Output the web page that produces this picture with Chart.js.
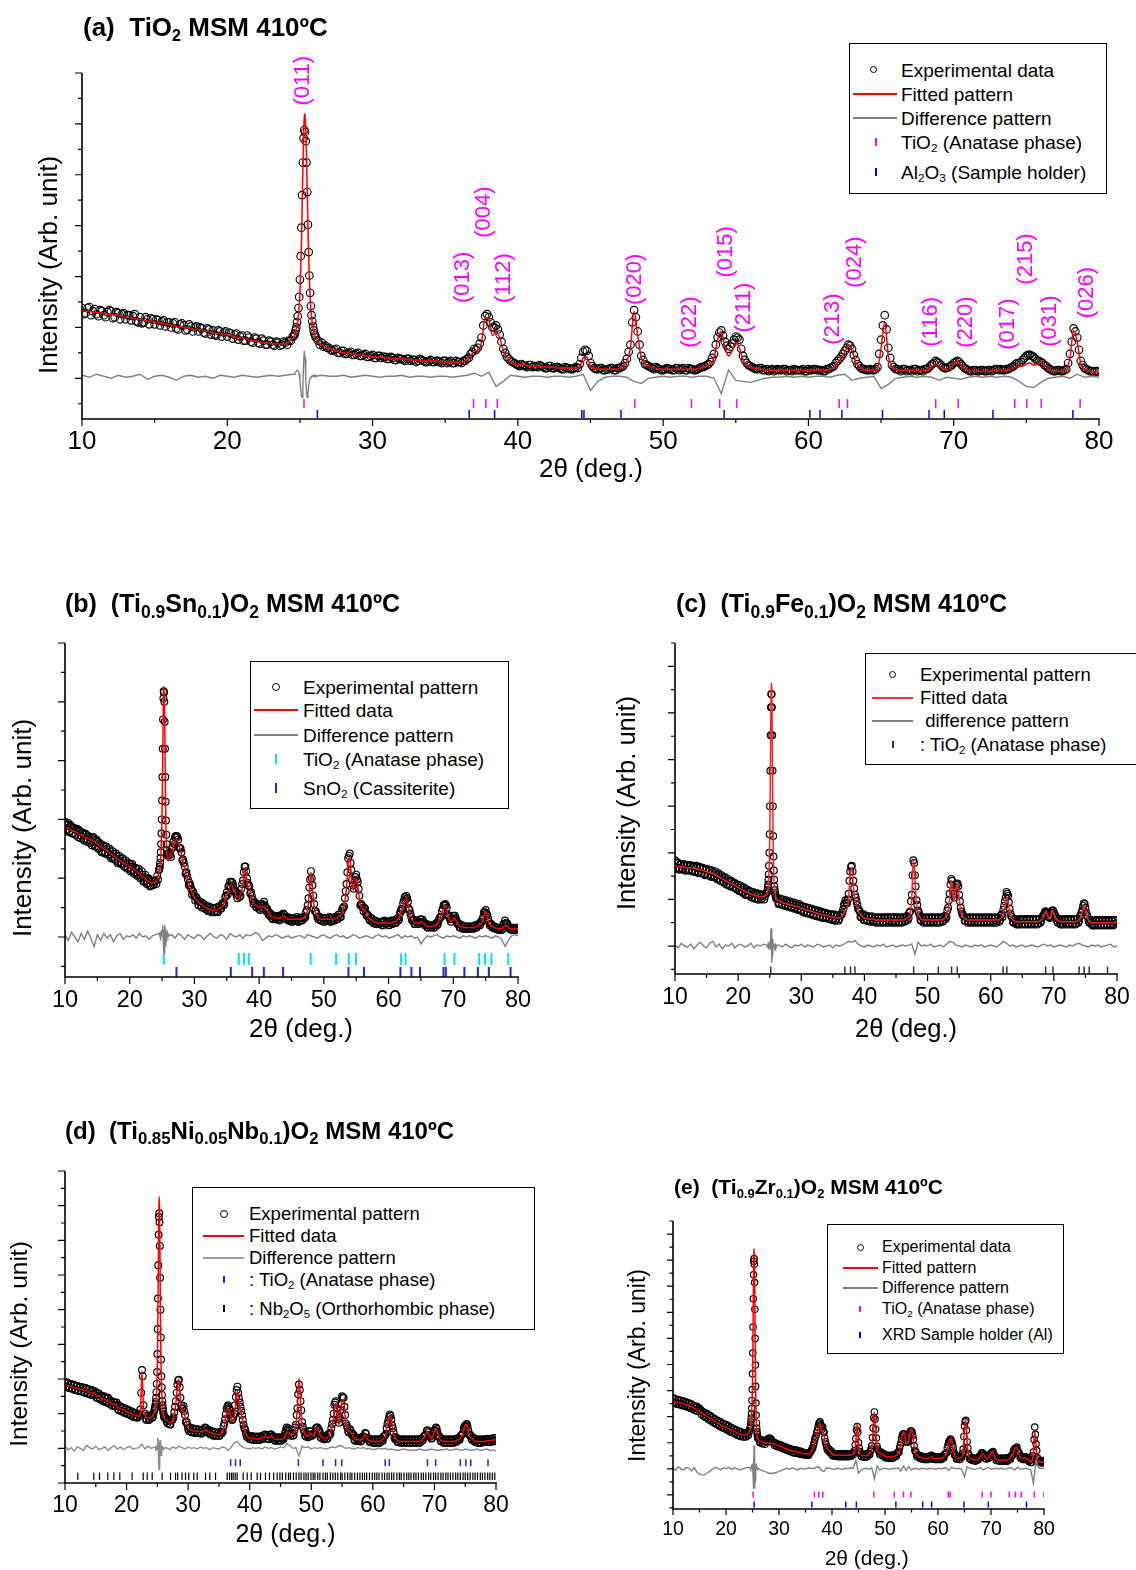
<!DOCTYPE html>
<html lang="en">
<head>
<meta charset="UTF-8">
<title>XRD patterns - MSM 410ºC</title>
<script src="https://cdn.jsdelivr.net/npm/chart.js"></script>
<style>
  * { margin: 0; padding: 0; box-sizing: border-box; }
  body {
    width: 1136px; height: 1570px; position: relative; overflow: hidden;
    background: #fff; color: #000;
    font-family: "Liberation Sans", Arial, Helvetica, sans-serif;
  }
  canvas { position: absolute; left: 0; top: 0; }
  .title { position: absolute; font-weight: bold; white-space: nowrap; line-height: 1; }
  sub { font-size: 62%; vertical-align: -0.32em; line-height: 0; }
  .title.big sub { font-size: 70%; }
  .legend { position: absolute; border: 1px solid #000; background: #fff; }
  .row { position: absolute; white-space: nowrap; line-height: 1; transform: translateY(-50%); }
  .sym { position: absolute; }
  .circ { border: 1px solid #000; border-radius: 50%; }
  .ln { height: 1.5px; }
</style>
</head>
<body>
<canvas id="cA" width="1136" height="1570"></canvas>
<canvas id="cB" width="1136" height="1570"></canvas>
<canvas id="cC" width="1136" height="1570"></canvas>
<canvas id="cD" width="1136" height="1570"></canvas>
<canvas id="cE" width="1136" height="1570"></canvas>

<div class="title" style="left:83px;top:14px;font-size:26px">(a)&nbsp; TiO<sub>2</sub> MSM 410ºC</div>
<div class="title big" style="left:65px;top:591px;font-size:25px">(b)&nbsp; (Ti<sub>0.9</sub>Sn<sub>0.1</sub>)O<sub>2</sub> MSM 410ºC</div>
<div class="title big" style="left:676px;top:591px;font-size:25px">(c)&nbsp; (Ti<sub>0.9</sub>Fe<sub>0.1</sub>)O<sub>2</sub> MSM 410ºC</div>
<div class="title big" style="left:65px;top:1119px;font-size:24px">(d)&nbsp; (Ti<sub>0.85</sub>Ni<sub>0.05</sub>Nb<sub>0.1</sub>)O<sub>2</sub> MSM 410ºC</div>
<div class="title" style="left:674px;top:1176px;font-size:21px">(e)&nbsp; (Ti<sub>0.9</sub>Zr<sub>0.1</sub>)O<sub>2</sub> MSM 410ºC</div>

<!-- legends -->
<div class="legend" style="left:849px;top:43px;width:258px;height:151px;font-size:19px">
  <span class="sym circ" style="left:20px;top:22px;width:7px;height:7px"></span>
  <span class="sym ln" style="left:3px;top:49px;width:44px;background:#ff0000"></span>
  <span class="sym ln" style="left:3px;top:73px;width:44px;background:#808080"></span>
  <span class="sym" style="left:25px;top:94px;width:1.5px;height:8px;background:#ff00ff"></span>
  <span class="sym" style="left:25px;top:124px;width:1.5px;height:8px;background:#0000ff"></span>
  <div class="row" style="left:51px;top:26px">Experimental data</div>
  <div class="row" style="left:51px;top:50px">Fitted pattern</div>
  <div class="row" style="left:51px;top:74px">Difference pattern</div>
  <div class="row" style="left:51px;top:98px">TiO<sub>2</sub> (Anatase phase)</div>
  <div class="row" style="left:51px;top:128px">Al<sub>2</sub>O<sub>3</sub> (Sample holder)</div>
</div>

<div class="legend" style="left:250px;top:661px;width:259px;height:148px;font-size:19px">
  <span class="sym circ" style="left:21px;top:21px;width:8px;height:8px"></span>
  <span class="sym ln" style="left:3px;top:47px;width:44px;background:#ff0000"></span>
  <span class="sym ln" style="left:3px;top:72px;width:44px;background:#808080"></span>
  <span class="sym" style="left:24px;top:92px;width:2px;height:10px;background:#00e6e6"></span>
  <span class="sym" style="left:24px;top:121px;width:2px;height:10px;background:#2020ff"></span>
  <div class="row" style="left:52px;top:25px">Experimental pattern</div>
  <div class="row" style="left:52px;top:48px">Fitted data</div>
  <div class="row" style="left:52px;top:73px">Difference pattern</div>
  <div class="row" style="left:52px;top:97px">TiO<sub>2</sub> (Anatase phase)</div>
  <div class="row" style="left:52px;top:126px">SnO<sub>2</sub> (Cassiterite)</div>
</div>

<div class="legend" style="left:865px;top:653px;width:300px;height:112px;font-size:18.5px">
  <span class="sym circ" style="left:23px;top:17px;width:7px;height:7px"></span>
  <span class="sym ln" style="left:6px;top:43px;width:41px;background:#ff3030"></span>
  <span class="sym ln" style="left:6px;top:66px;width:41px;background:#808080"></span>
  <span class="sym" style="left:26px;top:87px;width:1.5px;height:7px;background:#333"></span>
  <div class="row" style="left:54px;top:21px">Experimental pattern</div>
  <div class="row" style="left:54px;top:44px">Fitted data</div>
  <div class="row" style="left:54px;top:67px">&nbsp;difference pattern</div>
  <div class="row" style="left:54px;top:91px">: TiO<sub>2</sub> (Anatase phase)</div>
</div>

<div class="legend" style="left:192px;top:1187px;width:343px;height:143px;font-size:18.5px">
  <span class="sym circ" style="left:27px;top:22px;width:8px;height:8px"></span>
  <span class="sym ln" style="left:10px;top:47px;width:41px;background:#ff0000"></span>
  <span class="sym ln" style="left:10px;top:69px;width:41px;background:#a0a0a0"></span>
  <span class="sym" style="left:30px;top:88px;width:1.5px;height:7px;background:#2020ff"></span>
  <span class="sym" style="left:30px;top:117px;width:1.5px;height:7px;background:#000"></span>
  <div class="row" style="left:56px;top:26px">Experimental pattern</div>
  <div class="row" style="left:56px;top:48px">Fitted data</div>
  <div class="row" style="left:56px;top:70px">Difference pattern</div>
  <div class="row" style="left:56px;top:92px">: TiO<sub>2</sub> (Anatase phase)</div>
  <div class="row" style="left:56px;top:121px">: Nb<sub>2</sub>O<sub>5</sub> (Orthorhombic phase)</div>
</div>

<div class="legend" style="left:827px;top:1224px;width:237px;height:130px;font-size:16px">
  <span class="sym circ" style="left:29px;top:19px;width:7px;height:7px"></span>
  <span class="sym ln" style="left:15px;top:42px;width:35px;background:#ff0000"></span>
  <span class="sym ln" style="left:15px;top:62px;width:35px;background:#808080"></span>
  <span class="sym" style="left:31px;top:81px;width:1.5px;height:6px;background:#ff00ff"></span>
  <span class="sym" style="left:31px;top:107px;width:1.5px;height:6px;background:#0000ff"></span>
  <div class="row" style="left:54px;top:22px">Experimental data</div>
  <div class="row" style="left:54px;top:43px">Fitted pattern</div>
  <div class="row" style="left:54px;top:63px">Difference pattern</div>
  <div class="row" style="left:54px;top:84px">TiO<sub>2</sub> (Anatase phase)</div>
  <div class="row" style="left:54px;top:110px">XRD Sample holder (Al)</div>
</div>

<script>
// ---------- axis ticks ----------
const xTickLabels = [10, 20, 30, 40, 50, 60, 70, 80];
const xMinorTicks = [15, 25, 35, 45, 55, 65, 75];

// Grids: lo 10-24.5 step .25 | pk 24.6-26.1 step .05 | hi 26.25-80 step .25
//        mlo 10.125-24.375 step .25 | mhi 26.375-79.875 step .25 (extra observed points)
//        diff lo/hi step .5

// ---------- (a) TiO2 ----------
const obsA_lo = [69,64,70,66, 63,67,62,65, 66,60,64,63, 58,62,61,56, 60,55,58,59, 53,57,56,51, 55,54,49,53, 52,48,51,50,
  46,49,44,48, 47,42,46,45, 41,44,43,38, 42,37,40,35, 39,34,37,33, 36,32,35,33, 35,37,41];
const obsA_mlo = [63,69,62,68, 61,66,60,67, 59,65,58,64, 62,57,63,55, 54,60,53,58, 58,52,57,55, 50,55,48,54, 47,53,46,51,
  50,45,49,43, 43,47,41,46, 45,39,44,41, 37,42,36,40, 35,39,33,37, 33,36,32,36, 33,37];
const calcA_lo = [67,66,66,65, 65,64,64,63, 63,62,62,61, 60,60,59,58, 58,57,56,56, 55,55,54,53, 53,52,51,51, 50,50,49,48,
  48,47,46,46, 45,44,44,43, 43,42,41,40, 40,39,38,37, 37,36,35,35, 34,34,34,34, 34,36,39];
const obsA_pk = [42,44,47,50,55,61,69,80,97,120, 148,180,212,236,244,242,233,212,183,151, 124,101,84,71,62,56,51,47,44,42, 40];
const calcA_pk = [41,43,45,48,52,57,63,72,85,104, 130,165,203,236,256,260,246,220,185,150, 120,97,80,68,60,54,49,46,43,41, 39];
const obsA_hi = [
  37,35,32,30, 27,29,25,27, 24,26,23,25, 22,24,21,23, 20,22,21,19, 21,18,20,19, 17,19,18,16, 19,17,16,18,
  16,17,15,17, 16,15,17,16, 17,19,24,29, 30,40,61,60, 50,52,43,29, 21,17,15,13, 14,12,13,11, 12,13,11,10,
  12,10,11,9, 11,10,9,11, 14,26,27,15, 10,9,10,8, 9,10,8,10, 12,19,33,67, 46,22,14,12, 10,11,9,8,
  10,9,8,10, 9,8,10,9, 8,10,11,13, 16,24,40,47, 36,29,34,41, 38,22,15,12, 10,9,10,8, 7,9,8,8,
  9,7,8,9, 8,8,7,9, 8,9,8,7, 9,10,12,17, 21,27,33,29, 18,12,9,8, 9,8,11,38, 62,30,13,9,
  8,9,7,8, 9,7,8,9, 10,14,17,15, 11,10,12,15, 17,14,10,8, 7,8,7,8, 7,8,8,9, 9,8,9,11,
  14,15,18,22, 23,21,17,16, 13,10,8,7, 8,7,9,24, 49,40,17,10, 8,7,7,6];
const obsA_mhi = [
  33,31,30,28, 28,25,27,24, 25,23,24,22, 23,21,22,20, 22,20,21,19, 20,18,19,18, 19,17,18,17, 18,16,17,16,
  17,16,17,15, 17,15,16,15, 17,20,26,28, 34,52,63,55, 50,48,36,25, 19,16,14,12, 13,11,13,12, 11,12,10,12,
  10,11,10,9, 10,9,10,10, 20,28,22,12, 9,10,8,9, 10,8,10,11, 15,26,55,60, 33,18,13,11, 9,10,8,9,
  9,8,10,8, 10,8,9,8, 9,11,12,14, 20,33,45,42, 32,31,38,40, 29,18,13,11, 9,10,8,9, 8,7,9,8,
  9,8,7,8, 8,9,7,8, 9,8,8,7, 9,11,15,19, 24,30,32,23, 14,10,9,8, 8,9,24,52, 48,20,11,9,
  7,9,8,7, 9,8,7,9, 12,15,16,13, 10,11,13,16, 16,12,9,7, 8,7,8,7, 8,7,9,8, 8,9,10,12,
  15,16,20,23, 22,19,17,15, 12,9,7,8, 7,8,15,36, 46,28,13,9, 7,6,7];
const calcA_hi = [
  36,33,31,29, 28,27,26,25, 25,24,24,23, 23,22,22,21, 21,21,20,20, 20,19,19,19, 19,18,18,18, 18,17,17,17,
  17,17,16,16, 16,16,16,16, 16,17,21,27, 26,35,60,58, 42,46,40,27, 20,16,14,13, 13,13,12,12, 12,12,11,11,
  11,11,10,10, 10,10,10,10, 11,20,21,12, 10,9,9,9, 9,9,9,10, 12,17,30,66, 42,20,14,12, 11,10,9,9,
  9,9,9,9, 9,9,9,9, 9,10,11,12, 14,20,38,46, 30,22,27,35, 30,18,13,11, 10,9,9,8, 8,8,8,8,
  8,8,8,8, 8,8,8,8, 8,8,8,8, 8,9,11,15, 19,25,33,27, 16,11,9,8, 8,8,9,30, 55,22,11,9,
  8,8,8,8, 8,8,8,8, 8,11,14,12, 9,8,9,13, 17,13,9,8, 7,7,7,7, 7,7,8,8, 9,8,8,9,
  11,12,12,14, 15,13,14,16, 13,9,7,7, 7,7,8,20, 47,36,14,9, 7,7,6,6];
const diffA_lo = [3,1,4,2,0,3,1,2,4,-1, 2,3,1,-2,2,3,1,2,0,3, 2,1,3,2,1,2,3,2,3,4];
const diffA_pk = [4,5,6,7,8,8,7,4,-2,-10, -17,-19,-8,15,27,20,0,-14,-19,-15, -8,-3,0,1,2,2,3,2,2,3, 2];
const diffA_hi = [
  3,2,2,3,1,2,3,2,1,2, 2,3,1,2,2,1,2,2,1,2, 3,5,2,6,-8,-3,3,2,1,2, 2,1,2,2,1,2,4,-12,-3,1,
  2,2,1,-3,-5,0,1,2,1,2, 2,1,2,2,0,-15,8,-2,-3,-4, -2,0,1,1,2,1,2,1,2,2, 1,3,4,-2,0,1,2,-10,-6,0,
  1,2,1,2,1,-2,1,0,-1,1, 2,1,2,1,2,1,-3,-8,-9,-4, 0,1,2,0,4,1,2,1];
const anataseA = [25.28, 36.95, 37.8, 38.58, 48.05, 51.95, 53.89, 55.06, 62.12, 62.69, 68.76, 70.31, 74.2, 75.03, 76.02, 78.7];
const aluminaA = [26.2, 36.65, 38.4, 44.4, 44.55, 47.1, 54.2, 60.1, 60.8, 62.3, 65.1, 68.3, 69.35, 72.7, 78.2];
const hklA_text = ['(011)','(013)','(004)','(112)','(020)','(022)','(015)','(211)','(213)','(024)','(116)','(220)','(017)','(215)','(031)','(026)'];
const hklA_x = [25.21, 36.22, 37.67, 39.05, 48.06, 51.85, 54.32, 55.56, 61.69, 63.2, 68.43, 70.84, 73.73, 74.97, 76.62, 79.17];
const hklA_y = [268, 74, 138, 74, 72, 30, 99, 45, 33, 89, 31, 30, 28, 92, 31, 59];
const yMajorA = [0, 50, 100, 150, 200, 250, 300];
const yMinorA = [-25, 25, 75, 125, 175, 225, 275];

// ---------- (b) (Ti0.9Sn0.1)O2 ----------
const obsB_lo = [98,95,97,90, 94,88,92,91, 85,90,86,88, 82,87,83,85, 80,84,79,82, 81,76,79,73, 77,72,75,70, 73,68,71,66,
  69,64,67,62, 65,60,63,59, 62,57,60,55, 58,53,55,51, 53,48,50,46, 49,44,47,45, 48,52,57];
const obsB_mlo = [91,96,89,95, 88,93,87,92, 91,84,89,83, 88,81,86,80, 78,85,77,83, 75,80,72,78, 71,77,70,75, 67,73,66,71,
  63,69,62,67, 60,65,58,63, 56,62,54,59, 52,58,50,56, 47,53,45,50, 43,48,44,47, 45,49];
const calcB_lo = [94,93,93,92, 91,90,90,89, 88,87,87,86, 85,84,84,83, 83,82,81,80, 79,78,77,76, 75,74,73,72, 71,70,69,68,
  67,66,65,64, 63,62,62,61, 60,59,58,57, 56,55,54,53, 51,50,49,48, 47,46,46,46, 47,50,54];
const obsB_pk = [58,60,63,67,72,79,88,100,116,136, 160,185,203,209,208,200,183,160,136,115, 99,87,79,74,71,70,69,69,70,71, 72];
const calcB_pk = [56,58,61,64,68,74,82,93,108,127, 150,176,200,212,213,205,186,160,134,112, 95,83,75,70,67,66,65,65,65,66, 67];
const obsB_hi = [
  70,75,81,85, 86,83,76,72, 66,60,55,49, 46,41,39,35, 34,31,30,27, 29,25,27,23, 26,22,25,21, 25,22,26,24,
  28,27,34,38, 43,47,47,44, 40,36,37,34, 41,48,60,56, 46,43,38,32, 30,26,28,24, 27,28,30,25, 24,19,20,16,
  18,15,17,15, 17,19,20,16, 17,14,16,13, 16,14,15,13, 16,14,17,16, 21,27,42,56, 44,28,22,17, 17,14,16,13,
  16,14,16,13, 16,14,17,15, 19,17,22,25, 33,45,67,71, 57,44,48,53, 47,35,28,25, 25,20,19,15, 16,13,14,11,
  13,11,13,10, 13,11,12,10, 13,11,14,12, 15,14,20,24, 29,34,35,30, 23,17,15,11, 13,11,13,15, 15,12,11,8,
  10,8,10,8, 11,10,14,17, 22,27,28,25, 18,15,15,18, 18,14,12,8, 10,7,9,7, 9,7,9,7, 9,8,10,11,
  13,15,21,23, 19,13,11,8, 9,7,8,6, 8,6,11,14, 12,9,8,6, 8,6,8,7];
const obsB_mhi = [
  68,77,79,86, 85,76,75,65, 63,54,52,44, 44,36,37,31, 33,27,30,25, 28,24,26,22, 25,21,24,21, 25,21,26,24,
  29,28,35,36, 44,42,46,39, 38,33,37,35, 45,55,60,50, 44,37,35,28, 29,25,27,23, 27,24,27,22, 22,18,19,15,
  17,15,18,14, 18,16,19,15, 17,14,16,13, 16,14,17,13, 16,14,17,17, 23,33,49,50, 35,22,20,15, 17,14,16,13,
  16,14,17,13, 16,14,17,15, 19,17,24,26, 39,55,69,63, 49,41,51,49, 41,27,27,22, 24,18,18,14, 16,12,14,11,
  13,11,13,10, 14,11,13,10, 14,11,14,12, 16,15,22,23, 31,32,33,24, 20,14,15,11, 14,11,15,12, 13,10,11,8,
  10,8,10,8, 12,11,16,17, 24,27,27,19, 17,13,16,15, 16,11,11,8, 10,7,9,7, 9,7,9,7, 10,8,11,10,
  13,17,21,20, 16,10,11,8, 9,7,8,6, 8,7,11,12, 11,7,8,6, 8,6,7];
const calcB_hi = [
  68,72,78,82, 83,80,75,70, 64,58,53,48, 44,40,37,34, 32,30,29,28, 27,26,25,24, 24,23,23,23, 23,23,24,25,
  26,28,31,35, 39,43,44,42, 38,35,34,35, 38,46,58,52, 42,41,36,31, 28,27,26,25, 25,26,26,24, 22,20,18,17,
  17,16,16,16, 16,17,18,17, 16,15,15,15, 15,15,15,15, 15,15,16,17, 19,24,38,55, 40,26,20,18, 16,15,15,15,
  15,15,15,15, 15,15,16,16, 17,18,20,24, 30,42,63,68, 52,40,44,50, 44,32,26,24, 23,21,18,16, 15,14,13,13,
  12,12,12,12, 12,12,12,12, 12,12,13,13, 14,15,18,22, 26,31,33,28, 21,16,14,12, 12,12,12,13, 12,11,10,9,
  9,9,9,9, 10,11,13,16, 20,25,27,23, 17,14,13,15, 16,13,11,9, 9,8,8,8, 8,8,8,8, 8,9,9,10,
  11,13,18,22, 17,12,10,9, 8,8,7,7, 7,7,8,10, 9,8,7,7, 7,7,7,6];
const diffB_lo = [2,-3,4,0,-4,3,-2,5,-1,-8, 2,-3,3,-1,2,-4,1,3,-2,1, 0,2,-1,3,0,1,-2,1,2,3];
const diffB_pk = [2,1,3,2,1,3,2,4,6,8, 10,6,-2,-10,-14,-6,4,10,6,-4, -8,-3,1,2,4,3,2,1,3,2, 1];
const diffB_hi = [
  2,-1,3,1,-2,2,0,-1,2,1, -2,1,3,0,-1,2,1,-2,3,1, 0,2,-1,2,1,2,4,2,-3,-1, 1,0,2,1,-1,0,1,-1,0,1,
  1,-1,2,1,0,-1,1,2,0,-1, 1,2,0,1,-1,0,2,1,-1,0, 1,0,-1,1,2,0,1,-1,0,1, 2,-1,1,0,1,-1,0,-6,-2,1,
  0,1,2,0,-1,1,0,1,0,-1, 1,0,1,0,-1,1,0,1,0,-1, 1,0,-2,-8,-3,1,2,1];
const anataseB = [25.26, 36.85, 37.65, 38.4, 47.96, 51.9, 53.86, 54.97, 61.94, 62.63, 68.64, 70.18, 74.0, 74.9, 75.9, 78.5];
const cassiteriteB = [27.22, 35.62, 38.92, 40.73, 43.7, 53.8, 56.2, 61.83, 63.53, 64.86, 68.48, 68.85, 71.72, 73.8, 75.5, 78.85];
const yMajorB = [0, 50, 100, 150, 200, 250];
const yMinorB = [-25, 25, 75, 125, 175, 225];

// ---------- (c) (Ti0.9Fe0.1)O2 ----------
const obsC_lo = [92,84,89,82, 88,83,86,81, 87,82,86,80, 85,79,84,78, 84,78,83,76, 82,76,81,74, 79,74,77,72, 76,70,74,68,
  72,66,70,64, 69,63,67,61, 65,59,63,57, 61,55,59,54, 58,52,56,51, 55,50,54,51, 55,53,57];
const obsC_mlo = [83,90,82,88, 82,88,81,87, 81,87,81,86, 80,86,79,85, 78,84,77,83, 76,82,75,81, 74,80,72,78, 70,76,69,74,
  66,72,65,70, 63,68,62,66, 59,65,58,63, 55,61,55,59, 52,58,51,57, 50,56,50,55, 50,56];
const calcC_lo = [86,86,85,85, 85,85,85,84, 84,84,84,84, 84,83,83,82, 82,81,81,80, 80,79,79,78, 78,77,76,75, 74,73,72,71,
  70,69,68,67, 67,66,65,64, 63,62,61,60, 59,58,58,57, 56,55,55,54, 54,53,53,53, 53,54,55];
const obsC_pk = [58,60,63,66,71,77,86,100,120,150, 188,226,256,270,270,256,226,188,150,118, 96,81,71,64,60,57,55,53,52,51, 51];
const calcC_pk = [56,58,60,63,67,73,82,95,115,145, 185,228,264,282,280,258,222,180,142,112, 91,77,68,62,58,55,53,52,51,50, 50];
const obsC_hi = [
  51,46,50,45, 48,44,47,43, 46,42,45,41, 44,40,43,38, 42,37,41,36, 40,35,39,34, 38,33,37,32, 36,31,35,31,
  34,30,33,29, 33,28,32,29, 33,36,44,49, 46,56,80,86, 70,55,48,40, 37,31,33,28, 32,27,31,27, 31,27,30,26,
  30,26,30,26, 30,26,31,27, 30,26,31,26, 30,26,30,26, 30,27,32,30, 37,55,92,76, 49,38,33,27, 30,26,30,26,
  30,26,30,26, 30,26,30,26, 30,27,32,31, 41,56,72,59, 52,63,67,55, 41,34,32,27, 30,26,30,26, 30,26,30,26,
  30,26,30,26, 30,26,30,26, 30,26,30,27, 30,28,34,39, 48,58,54,40, 32,26,29,24, 28,24,28,24, 28,24,28,24,
  28,24,28,24, 28,24,29,27, 32,35,37,35, 31,32,38,36, 32,27,29,24, 28,24,28,24, 28,24,28,24, 28,24,29,27,
  33,38,46,41, 33,27,28,23, 27,23,27,23, 27,23,27,23, 27,23,27,23, 27,23,27,25];
const obsC_mhi = [
  45,51,44,50, 43,49,42,48, 41,47,40,46, 39,45,38,43, 36,42,35,41, 34,40,33,39, 32,38,31,37, 30,36,30,35,
  29,34,28,34, 27,33,27,33, 34,39,46,47, 50,70,85,80, 62,52,44,39, 31,35,28,33, 27,32,26,32, 26,31,25,31,
  25,31,25,31, 25,31,25,31, 25,31,25,31, 25,31,25,31, 26,32,28,36, 48,76,89,64, 44,36,28,31, 25,31,25,31,
  25,31,25,31, 25,31,25,31, 26,32,29,38, 49,66,70,55, 56,66,64,48, 37,33,27,31, 25,31,25,31, 25,31,25,31,
  25,31,25,31, 25,31,25,31, 25,31,25,31, 26,33,31,43, 52,56,47,35, 31,25,29,23, 23,29,23,29, 23,29,23,29,
  23,29,23,29, 23,29,25,31, 33,37,36,31, 30,36,38,34, 30,25,29,23, 23,29,23,29, 23,29,23,29, 23,29,25,32,
  36,43,45,36, 31,25,28,22, 22,28,22,28, 22,28,22,28, 22,28,22,28, 22,28,24];
const calcC_hi = [
  49,48,48,47, 46,46,45,45, 44,44,43,43, 42,42,41,40, 40,39,39,38, 38,37,37,36, 36,35,35,34, 34,33,33,33,
  32,32,31,31, 31,30,30,30, 31,32,35,38, 40,52,78,84, 65,50,45,38, 35,33,31,30, 30,29,29,29, 29,29,28,28,
  28,28,28,28, 28,28,28,28, 28,28,28,28, 28,28,28,28, 28,29,30,31, 35,52,93,72, 45,36,31,29, 28,28,28,28,
  28,28,28,28, 28,28,28,28, 28,29,30,32, 38,52,70,55, 49,62,68,52, 38,32,30,29, 28,28,28,28, 28,28,28,28,
  28,28,28,28, 28,28,28,28, 28,28,28,28, 28,29,31,35, 42,52,48,36, 30,28,27,26, 26,26,26,26, 26,26,26,26,
  26,26,26,26, 26,26,27,28, 30,34,37,33, 30,31,38,35, 30,28,27,26, 26,26,26,26, 26,26,26,26, 26,26,27,28,
  31,36,44,38, 31,28,26,25, 25,25,25,25, 25,25,25,25, 25,25,25,25, 25,25,26,26];
const diffC_lo = [1,-2,3,0,-1,2,-3,1,4,0, -2,3,5,-1,2,-3,1,0,3,-2, 1,2,-1,0,3,-2,1,0,2,1];
const diffC_pk = [0,1,-1,2,0,1,-2,1,3,2, -4,6,15,19,-8,-18,-10,4,8,2, -2,1,0,2,-1,1,0,-1,1,0, 1];
const diffC_hi = [
  1,-1,2,0,-2,1,0,2,-1,1, 0,-1,2,1,-1,0,1,-2,1,0, 1,3,5,4,6,2,0,-1,1,0, -1,1,0,2,-1,0,1,-1,0,1,
  0,1,2,-9,4,0,1,0,2,-1, 0,1,-1,2,5,4,1,0,-1,1, 0,-1,1,0,1,-1,0,1,0,-1, 2,5,3,0,1,-1,0,1,-1,0,
  1,0,-1,1,2,0,1,-1,0,1, 0,-1,1,0,2,3,1,0,-1,1, 0,1,-1,0,1,2,-1,0];
const anataseC = [25.17, 36.9, 37.8, 38.5, 47.8, 51.7, 53.8, 54.7, 61.96, 62.55, 68.7, 69.87, 74.0, 74.8, 75.6, 78.5];
const yMajorC = [0, 50, 100, 150, 200, 250, 300];
const yMinorC = [-25, 25, 75, 125, 175, 225, 275, 325];

// ---------- (d) (Ti0.85Ni0.05Nb0.1)O2 ----------
const obsD_lo = [96,89,94,87, 92,86,91,84, 90,83,88,82, 87,80,86,79, 85,77,83,78, 80,73,79,70, 75,68,73,66, 73,64,68,61,
  66,61,63,55, 60,53,58,51, 56,49,54,47, 52,45,51,44, 49,56,113,62, 50,41,47,42, 48,45,55];
const obsD_mlo = [89,95,87,93, 86,92,84,90, 83,89,82,88, 81,87,79,85, 78,84,77,82, 73,79,72,76, 69,75,67,72, 66,69,62,67,
  61,66,56,61, 54,59,52,57, 50,55,48,53, 46,51,45,50, 47,80,104,50, 43,47,41,47, 44,50];
const calcD_lo = [92,91,90,90, 89,88,87,87, 86,86,85,85, 84,83,83,82, 81,80,79,80, 77,75,76,73, 72,71,70,69, 70,67,65,64,
  63,64,60,58, 57,56,55,54, 53,52,51,50, 49,48,48,47, 46,52,111,58, 47,44,44,44, 45,47,52];
const obsD_pk = [57,60,63,67,73,81,93,110,136,172, 216,264,308,334,339,326,292,246,200,160, 128,104,88,77,68,62,57,53,50,47, 45];
const calcD_pk = [55,57,60,64,69,76,86,101,124,158, 203,255,310,350,363,347,305,250,198,155, 123,100,84,73,65,59,55,51,48,46, 44];
const obsD_hi = [
  45,39,41,35, 40,42,52,68, 92,99,73,57, 61,48,38,28, 30,24,29,23, 28,23,27,22, 27,24,30,25, 27,21,25,19,
  24,18,23,18, 24,22,32,42, 57,62,56,44, 42,50,74,89, 72,60,48,34, 27,17,19,13, 18,13,17,12, 17,13,17,14,
  19,20,18,14, 19,20,17,12, 16,11,16,11, 16,13,22,30, 29,21,22,18, 26,34,58,92, 68,38,27,18, 21,16,25,19,
  21,21,29,30, 27,16,19,13, 18,14,20,19, 29,41,63,68, 49,37,55,75, 73,48,33,24, 28,22,21,12, 16,11,15,10,
  16,17,22,15, 15,9,13,8, 13,8,13,8, 14,11,17,19, 29,40,49,42, 29,16,16,9, 13,8,13,8, 13,8,13,8,
  13,8,13,8, 13,8,14,11, 17,19,25,23, 19,14,21,26, 30,23,18,11, 14,8,13,8, 13,8,13,8, 13,9,15,12,
  18,20,28,33, 35,26,20,14, 16,10,13,8, 13,8,13,9, 13,10,14,10, 14,11,15,12];
const obsD_mhi = [
  43,36,40,34, 41,45,60,80, 98,88,62,58, 54,38,34,25, 29,23,28,22, 28,22,27,21, 27,23,29,23, 26,20,24,18,
  23,18,22,18, 24,24,36,49, 60,58,50,41, 46,62,84,80, 66,54,41,29, 22,16,18,13, 17,12,16,12, 16,12,17,14,
  19,14,18,13, 20,15,17,11, 15,11,15,11, 15,18,26,27, 25,18,22,19, 30,48,78,84, 55,31,24,17, 20,17,24,18,
  21,22,30,26, 23,15,18,13, 17,14,21,22, 35,50,66,58, 42,44,64,73, 60,36,30,23, 26,19,19,11, 15,11,14,11,
  17,16,21,13, 13,9,12,8, 12,8,12,8, 13,11,18,21, 35,45,47,33, 23,13,15,9, 12,8,12,8, 12,8,12,8,
  12,8,12,8, 12,8,14,12, 18,20,26,18, 17,15,24,26, 28,17,16,10, 12,8,12,8, 12,8,12,8, 12,10,14,13,
  19,21,31,33, 32,20,18,12, 14,9,12,8, 12,8,12,9, 13,9,13,9, 14,10,15];
const calcD_hi = [
  42,40,38,37, 37,40,48,65, 88,100,68,52, 56,45,35,29, 27,26,26,25, 25,25,24,24, 24,25,27,26, 24,23,22,21,
  21,20,20,20, 21,23,28,38, 52,58,52,42, 39,45,68,82, 65,56,45,32, 24,19,16,15, 15,15,14,14, 14,14,14,15,
  16,17,16,15, 16,18,16,14, 13,13,13,13, 13,14,18,23, 24,20,19,20, 23,32,60,101, 70,36,24,20, 18,17,22,20,
  18,20,27,29, 24,18,16,15, 15,15,17,20, 26,38,58,65, 45,34,50,70, 70,45,30,25, 25,23,18,14, 13,13,12,12,
  13,16,20,16, 12,11,10,10, 10,10,10,10, 11,12,14,18, 26,38,48,40, 26,17,13,11, 10,10,10,10, 10,10,10,10,
  10,10,10,10, 10,10,11,12, 14,18,24,22, 16,15,18,25, 29,22,15,12, 11,10,10,10, 10,10,10,10, 10,11,12,13,
  15,19,26,33, 34,25,17,15, 13,11,10,10, 10,10,10,10, 10,11,11,11, 11,12,12,13];
const diffD_lo = [3,-2,1,-4,2,0,-3,4,1,-1, 3,-2,0,2,-3,1,4,-1,2,-2, 1,3,-1,0,1,6,-1,3,0,2];
const diffD_pk = [2,1,3,0,2,4,1,-2,5,10, 15,8,-12,-25,-31,-18,2,12,6,-8, -10,-3,1,3,2,0,1,-1,2,1, 0];
const diffD_hi = [
  1,-2,2,0,3,1,-1,2,0,1, -1,2,0,1,-2,1,0,-1,2,1, -3,2,8,10,4,1,0,-1,1,0, 1,-1,2,0,1,-1,0,2,1,7,
  4,0,1,-11,3,1,2,-1,1,0, 1,0,-1,1,2,1,4,3,0,1, 0,-1,1,0,1,-1,0,-2,-1,0, -1,0,-2,-1,-2,-3,-2,-1,-2,-3,
  -2,-3,-1,-2,-3,-2,-1,-2,-3,-2, -2,-1,-3,-2,-1,-2,-3,-1,-2,-3, -2,-1,-3,-2,-1,-3,-2,-4];
const anataseD = [25.32, 36.9, 37.7, 38.46, 47.9, 51.9, 53.95, 54.95, 62.0, 62.67, 68.87, 70.2, 74.2, 75.1, 75.9, 78.7];
const niobiaD = [12.08, 14.68, 15.6, 16.95, 17.93, 18.9, 20.9, 22.7, 23.35, 24.16, 25.78, 27.13, 27.95, 28.3, 29.0, 29.57,
  30.1, 30.92, 31.47, 32.82, 33.52, 34.45, 36.34, 36.72, 37.04, 37.31, 37.64, 37.96, 38.94, 39.59, 40.24, 41.21, 41.75,
  42.56, 43.21, 43.9, 44.46, 44.9, 45.3, 45.85, 46.3, 46.6, 47.1, 47.55, 48.0, 48.35, 48.8, 49.15, 49.5, 49.95, 50.3,
  50.6, 51.05, 51.4, 51.9, 52.3, 52.6, 53.1, 53.5, 53.9, 54.3, 54.75, 55.0, 55.45, 55.9, 56.3, 56.6, 57.05, 57.5, 57.9,
  58.3, 58.65, 59.0, 59.45, 59.9, 60.3, 60.65, 61.0, 61.5, 61.9, 62.3, 62.65, 63.05, 63.4, 63.9, 64.3, 64.6, 65.05, 65.5,
  65.85, 66.2, 66.65, 67.0, 67.4, 67.85, 68.2, 68.6, 69.05, 69.4, 69.85, 70.2, 70.6, 71.05, 71.4, 71.85, 72.2, 72.6,
  73.0, 73.45, 73.8, 74.2, 74.65, 75.0, 75.4, 75.8, 76.25, 76.6, 77.0, 77.45, 77.8, 78.2, 78.65, 79.0, 79.4, 79.8];
const yMajorD = [-50, 0, 50, 100, 150, 200, 250, 300, 350, 400];
const yMinorD = [-25, 25, 75, 125, 175, 225, 275, 325, 375];

// ---------- (e) (Ti0.9Zr0.1)O2 ----------
const obsE_lo = [136,126,134,124, 133,123,131,121, 130,120,128,118, 126,116,124,114, 121,118,120,114, 116,112,111,101,
  108,98,105,94, 102,91,98,88, 95,85,92,82, 89,79,87,77, 85,74,82,71, 79,69,77,67, 74,64,72,62, 70,61,69,61, 70,65,77];
const obsE_mlo = [127,134,125,132, 124,131,122,129, 121,128,119,126, 117,124,115,121, 112,119,110,116, 113,104,109,101,
  99,106,96,102, 93,99,89,96, 86,93,83,90, 80,87,78,85, 76,83,73,79, 70,77,68,75, 65,72,63,70, 62,68,62,68, 64,71];
const calcE_lo = [130,129,128,128, 127,127,126,125, 125,124,123,122, 121,120,119,118, 116,115,114,112, 110,108,107,105,
  103,102,100,98, 97,95,93,92, 90,89,87,86, 84,83,82,81, 80,78,77,75, 74,73,72,71, 69,68,67,66, 66,65,65,65, 66,68,73];
const obsE_pk = [80,84,90,97,105,116,131,152,182,222, 272,326,372,398,403,392,357,306,250,199, 158,126,103,88,78,71,66,62,60,58, 57];
const calcE_pk = [78,82,87,93,100,110,123,142,170,210, 262,320,375,412,422,405,362,305,245,192, 150,118,96,82,73,67,63,60,58,57, 56];
const obsE_hi = [
  57,51,55,49, 54,52,56,58, 59,57,53,50, 50,44,47,42, 46,40,43,38, 42,36,40,34, 38,32,36,31, 36,30,34,29,
  33,28,31,27, 31,27,31,33, 38,45,56,64, 74,86,90,82, 80,70,52,42, 40,33,35,27, 30,24,29,24, 29,24,29,24,
  29,24,29,24, 29,25,30,27, 35,58,81,50, 33,24,28,23, 28,23,29,27, 34,44,78,109, 76,43,35,28, 32,26,29,22,
  26,21,26,21, 26,21,27,24, 30,32,40,50, 64,67,60,52, 51,60,71,72, 64,44,33,24, 27,21,25,19, 23,18,23,18,
  24,21,26,19, 23,18,23,18, 23,18,24,21, 27,30,40,50, 55,54,46,32, 27,19,23,18, 24,22,38,82, 93,52,29,19,
  22,16,20,15, 20,17,23,23, 31,29,27,20, 23,20,26,30, 31,28,24,16, 20,15,20,15, 20,15,20,15, 21,18,24,25,
  34,39,40,36, 31,22,24,18, 23,20,22,16, 18,12,18,32, 80,48,21,13, 16,12,16,13];
const obsE_mhi = [
  50,56,48,54, 47,54,52,56, 56,52,51,45, 49,43,47,41, 45,39,43,37, 41,35,39,33, 37,31,36,30, 35,29,34,28,
  32,27,31,26, 30,26,32,35, 41,50,60,69, 80,88,84,76, 72,59,47,36, 38,31,33,25, 29,24,28,23, 29,23,28,23,
  29,23,28,23, 28,24,30,31, 46,74,70,40, 30,23,27,22, 28,23,30,27, 38,60,98,95, 59,38,33,27, 31,25,28,21,
  26,21,25,20, 26,21,27,24, 31,32,45,57, 66,65,58,51, 55,66,73,70, 56,35,31,23, 26,20,24,19, 23,18,23,18,
  24,20,25,19, 23,18,23,18, 23,18,24,21, 29,31,45,53, 57,52,40,26, 25,19,23,18, 24,30,62,90, 74,40,26,18,
  21,16,20,15, 20,18,25,26, 31,26,25,19, 23,21,29,31, 33,23,22,16, 20,15,20,15, 20,15,20,15, 21,18,25,28,
  37,39,42,32, 29,20,23,18, 23,18,21,14, 17,12,25,56, 66,35,19,12, 15,11,15];
const calcE_hi = [
  54,53,52,51, 50,50,49,49, 49,49,48,48, 47,46,45,44, 43,42,41,40, 39,38,37,36, 35,34,34,33, 33,32,32,31,
  30,30,29,29, 28,28,29,31, 35,42,52,61, 70,82,87,72, 71,64,48,40, 37,35,32,29, 27,26,26,26, 26,26,26,26,
  26,26,26,26, 26,26,27,28, 32,55,87,45, 30,26,25,25, 25,25,26,28, 31,40,75,109, 72,40,32,30, 29,28,26,24,
  23,23,23,23, 23,23,24,25, 27,30,37,48, 62,71,62,50, 49,58,72,77, 65,42,30,26, 24,23,22,21, 20,20,20,20,
  21,22,23,21, 20,20,20,20, 20,20,21,22, 24,28,37,48, 56,58,45,30, 24,21,20,20, 21,23,35,80, 93,48,26,21,
  19,18,17,17, 17,18,20,24, 28,29,25,21, 20,21,24,30, 33,27,21,18, 17,17,17,17, 17,17,17,17, 18,19,21,25,
  31,38,42,37, 29,23,21,20, 20,21,19,17, 15,13,15,30, 71,45,18,14, 13,13,13,13];
const diffE_lo = [2,-3,4,0,-2,3,1,-4,2,-6, -10,-12,-11,-8,-4,0,3,1,-2,2, 0,3,-1,2,1,-2,0,1,3,2];
const diffE_pk = [2,0,1,3,2,4,6,8,10,6, -10,-30,-38,-10,45,20,-25,-38,-22,-6, 2,6,8,6,3,1,0,2,-1,0, 1];
const diffE_hi = [
  -2,-4,-6,-8,-9,-8,-7,-5,-3,-1, 1,-1,2,0,-2,1,0,-1,2,1, 0,3,4,-3,-5,2,1,0,-1,1, 0,-1,1,0,2,1,16,-8,-2,0,
  1,-1,2,-19,5,-2,0,1,0,-1, 1,0,2,-4,5,-3,4,-2,1,0, -1,1,0,-1,1,0,-1,1,0,1, 2,-3,3,1,0,1,-2,-15,4,1,
  0,-1,1,2,-2,1,3,-1,0,1, 0,1,-1,0,2,1,-2,3,-1,0, 1,0,-2,-28,16,2,1,0];
const anataseE = [25.11, 36.69, 37.5, 38.26, 47.9, 51.73, 53.5, 54.88, 61.93, 62.3, 68.35, 70.0, 73.45, 74.6, 75.7, 78.17, 80.0];
const aluminiumE = [25.3, 36.2, 42.6, 44.6, 52.05, 57.1, 58.8, 64.9, 69.5, 76.7];
const yMajorE = [-50, 0, 50, 100, 150, 200, 250, 300, 350, 400, 450];
const yMinorE = [-75, -25, 25, 75, 125, 175, 225, 275, 325, 375, 425, 475];

// ---------- helpers ----------
const W = 1136, H = 1570;
const FONT = '"Liberation Sans", Arial, Helvetica, sans-serif';

function seg(start, step, vals) {
  return vals.map((v, i) => ({ x: Math.round((start + i * step) * 1000) / 1000, y: v }));
}
function profile(lo, pk, hi) {
  return seg(10, 0.25, lo).concat(seg(24.6, 0.05, pk), seg(26.25, 0.25, hi));
}
function obsProfile(lo, pk, hi, mlo, mhi) {
  return profile(lo, pk, hi).concat(seg(10.125, 0.25, mlo), seg(26.375, 0.25, mhi));
}
function diffProfile(lo, pk, hi) {
  return seg(10, 0.5, lo).concat(seg(24.6, 0.05, pk), seg(26.5, 0.5, hi));
}
function marks(list, yc) { return list.map(p => ({ x: p, y: yc })); }

function tickSet(list, yc, half, color, width) {
  return {
    data: marks(list, yc), showLine: false,
    pointStyle: 'line', pointRotation: 90, pointRadius: half,
    pointBorderColor: color, pointBorderWidth: width || 1.5
  };
}

function makeFrame(P) {
  return {
    id: 'frame',
    afterDraw(chart) {
      const ctx = chart.ctx, a = chart.chartArea, xs = chart.scales.x, ys = chart.scales.y;
      ctx.save();
      ctx.strokeStyle = '#000';
      ctx.lineWidth = 1.6;
      ctx.beginPath();
      ctx.moveTo(a.left, a.top);
      ctx.lineTo(a.left, a.bottom);
      ctx.lineTo(a.right + 0.8, a.bottom);
      ctx.stroke();

      ctx.lineWidth = 1.2;
      ctx.beginPath();
      P.yMajor.forEach(v => { const p = ys.getPixelForValue(v); ctx.moveTo(a.left, p); ctx.lineTo(a.left - P.major, p); });
      P.yMinor.forEach(v => { const p = ys.getPixelForValue(v); ctx.moveTo(a.left, p); ctx.lineTo(a.left - P.minor, p); });
      xTickLabels.forEach(v => { const p = xs.getPixelForValue(v); ctx.moveTo(p, a.bottom); ctx.lineTo(p, a.bottom + P.major); });
      xMinorTicks.forEach(v => { const p = xs.getPixelForValue(v); ctx.moveTo(p, a.bottom); ctx.lineTo(p, a.bottom + P.minor); });
      ctx.stroke();

      ctx.fillStyle = '#000';
      ctx.textAlign = 'center';
      ctx.textBaseline = 'middle';
      ctx.font = P.tickFont + 'px ' + FONT;
      xTickLabels.forEach(v => ctx.fillText(String(v), xs.getPixelForValue(v), P.tickY));
      ctx.font = P.xTitleFont + 'px ' + FONT;
      ctx.fillText('2\u03B8 (deg.)', P.xTitle[0], P.xTitle[1]);
      ctx.save();
      ctx.translate(P.yTitle[0], P.yTitle[1]);
      ctx.rotate(-Math.PI / 2);
      ctx.font = P.yTitleFont + 'px ' + FONT;
      ctx.fillText('Intensity (Arb. unit)', 0, 0);
      ctx.restore();

      if (P.hkl) {
        ctx.fillStyle = '#ff00ff';
        ctx.font = '22px ' + FONT;
        ctx.textAlign = 'left';
        P.hkl.text.forEach((t, i) => {
          ctx.save();
          ctx.translate(xs.getPixelForValue(P.hkl.x[i]), ys.getPixelForValue(P.hkl.y[i]));
          ctx.rotate(-Math.PI / 2);
          ctx.fillText(t, 0, 0);
          ctx.restore();
        });
      }
      ctx.restore();
    }
  };
}

function makePanel(id, P) {
  const datasets = [
    { label: 'Fitted', data: P.calc, showLine: true, borderColor: P.fitColor || '#ff0000', borderWidth: 1.5,
      pointRadius: 0, cubicInterpolationMode: 'monotone' },
    { label: 'Difference', data: P.diff, showLine: true, borderColor: P.diffColor || '#808080', borderWidth: 1.4,
      pointRadius: 0, tension: 0 }
  ].concat(P.phases, [
    { label: 'Experimental', data: P.obs, showLine: false, pointStyle: 'circle', pointRadius: P.ptR,
      pointBorderColor: '#000', pointBackgroundColor: 'rgba(0,0,0,0)', pointBorderWidth: 1.15 }
  ]);
  return new Chart(document.getElementById(id), {
    type: 'scatter',
    data: { datasets },
    options: {
      responsive: false, animation: false, events: [],
      layout: { padding: { left: P.box.l, top: P.box.t, right: W - P.box.r, bottom: H - P.box.b } },
      scales: {
        x: { type: 'linear', display: false, min: 10, max: 80 },
        y: { type: 'linear', display: false, min: P.yMin, max: P.yMax }
      },
      plugins: { legend: { display: false }, tooltip: { enabled: false } }
    },
    plugins: [makeFrame(P)]
  });
}

makePanel('cA', {
  box: { l: 82, t: 73, r: 1099, b: 419 }, yMin: -40, yMax: 300, yMajor: yMajorA, yMinor: yMinorA,
  major: 7, minor: 4, tickFont: 26, tickY: 442, xTitle: [591, 470], xTitleFont: 26, yTitle: [50, 265], yTitleFont: 26,
  ptR: 3.8,
  obs: obsProfile(obsA_lo, obsA_pk, obsA_hi, obsA_mlo, obsA_mhi), calc: profile(calcA_lo, calcA_pk, calcA_hi),
  diff: diffProfile(diffA_lo, diffA_pk, diffA_hi),
  phases: [tickSet(anataseA, -24.8, 4.5, '#ff00ff'), tickSet(aluminaA, -35.1, 4, '#0000ff')],
  hkl: { text: hklA_text, x: hklA_x, y: hklA_y }
});

makePanel('cB', {
  box: { l: 65, t: 643, r: 518, b: 977 }, yMin: -34, yMax: 250, yMajor: yMajorB, yMinor: yMinorB,
  major: 7, minor: 4, tickFont: 23.5, tickY: 1001, xTitle: [301, 1030], xTitleFont: 26, yTitle: [23.5, 828], yTitleFont: 26,
  ptR: 3.4,
  obs: obsProfile(obsB_lo, obsB_pk, obsB_hi, obsB_mlo, obsB_mhi), calc: profile(calcB_lo, calcB_pk, calcB_hi),
  diff: diffProfile(diffB_lo, diffB_pk, diffB_hi),
  phases: [tickSet(anataseB, -18.7, 6, '#00e6e6', 2), tickSet(cassiteriteB, -29.7, 5, '#2020ff', 2)]
});

makePanel('cC', {
  box: { l: 675, t: 643, r: 1117, b: 974 }, yMin: -30, yMax: 325, yMajor: yMajorC, yMinor: yMinorC,
  major: 7, minor: 4, tickFont: 23, tickY: 997.5, xTitle: [906, 1030], xTitleFont: 25.5, yTitle: [628, 803], yTitleFont: 25.5,
  ptR: 3.4, fitColor: '#ff2020',
  obs: obsProfile(obsC_lo, obsC_pk, obsC_hi, obsC_mlo, obsC_mhi), calc: profile(calcC_lo, calcC_pk, calcC_hi),
  diff: diffProfile(diffC_lo, diffC_pk, diffC_hi),
  phases: [tickSet(anataseC, -25.7, 3.5, '#333333')]
});

makePanel('cD', {
  box: { l: 65, t: 1171, r: 496, b: 1483 }, yMin: -50, yMax: 400, yMajor: yMajorD, yMinor: yMinorD,
  major: 7, minor: 4, tickFont: 23, tickY: 1506, xTitle: [285.5, 1535], xTitleFont: 25, yTitle: [20.4, 1344], yTitleFont: 24.5,
  ptR: 3.4, diffColor: '#8a8a8a',
  obs: obsProfile(obsD_lo, obsD_pk, obsD_hi, obsD_mlo, obsD_mhi), calc: profile(calcD_lo, calcD_pk, calcD_hi),
  diff: diffProfile(diffD_lo, diffD_pk, diffD_hi),
  phases: [tickSet(anataseD, -20.7, 3.5, '#2020ff'), tickSet(niobiaD, -40.3, 3.7, '#000000', 1.2)]
});

makePanel('cE', {
  box: { l: 673, t: 1221, r: 1044, b: 1509 }, yMin: -77, yMax: 475, yMajor: yMajorE, yMinor: yMinorE,
  major: 6, minor: 3.5, tickFont: 19.5, tickY: 1530, xTitle: [866.7, 1559], xTitleFont: 21, yTitle: [639, 1365.5], yTitleFont: 23,
  ptR: 3.2,
  obs: obsProfile(obsE_lo, obsE_pk, obsE_hi, obsE_mlo, obsE_mhi), calc: profile(calcE_lo, calcE_pk, calcE_hi),
  diff: diffProfile(diffE_lo, diffE_pk, diffE_hi),
  phases: [tickSet(anataseE, -49.2, 3, '#ff00ff'), tickSet(aluminiumE, -68.4, 3, '#0000ff')]
});
</script>
</body>
</html>
